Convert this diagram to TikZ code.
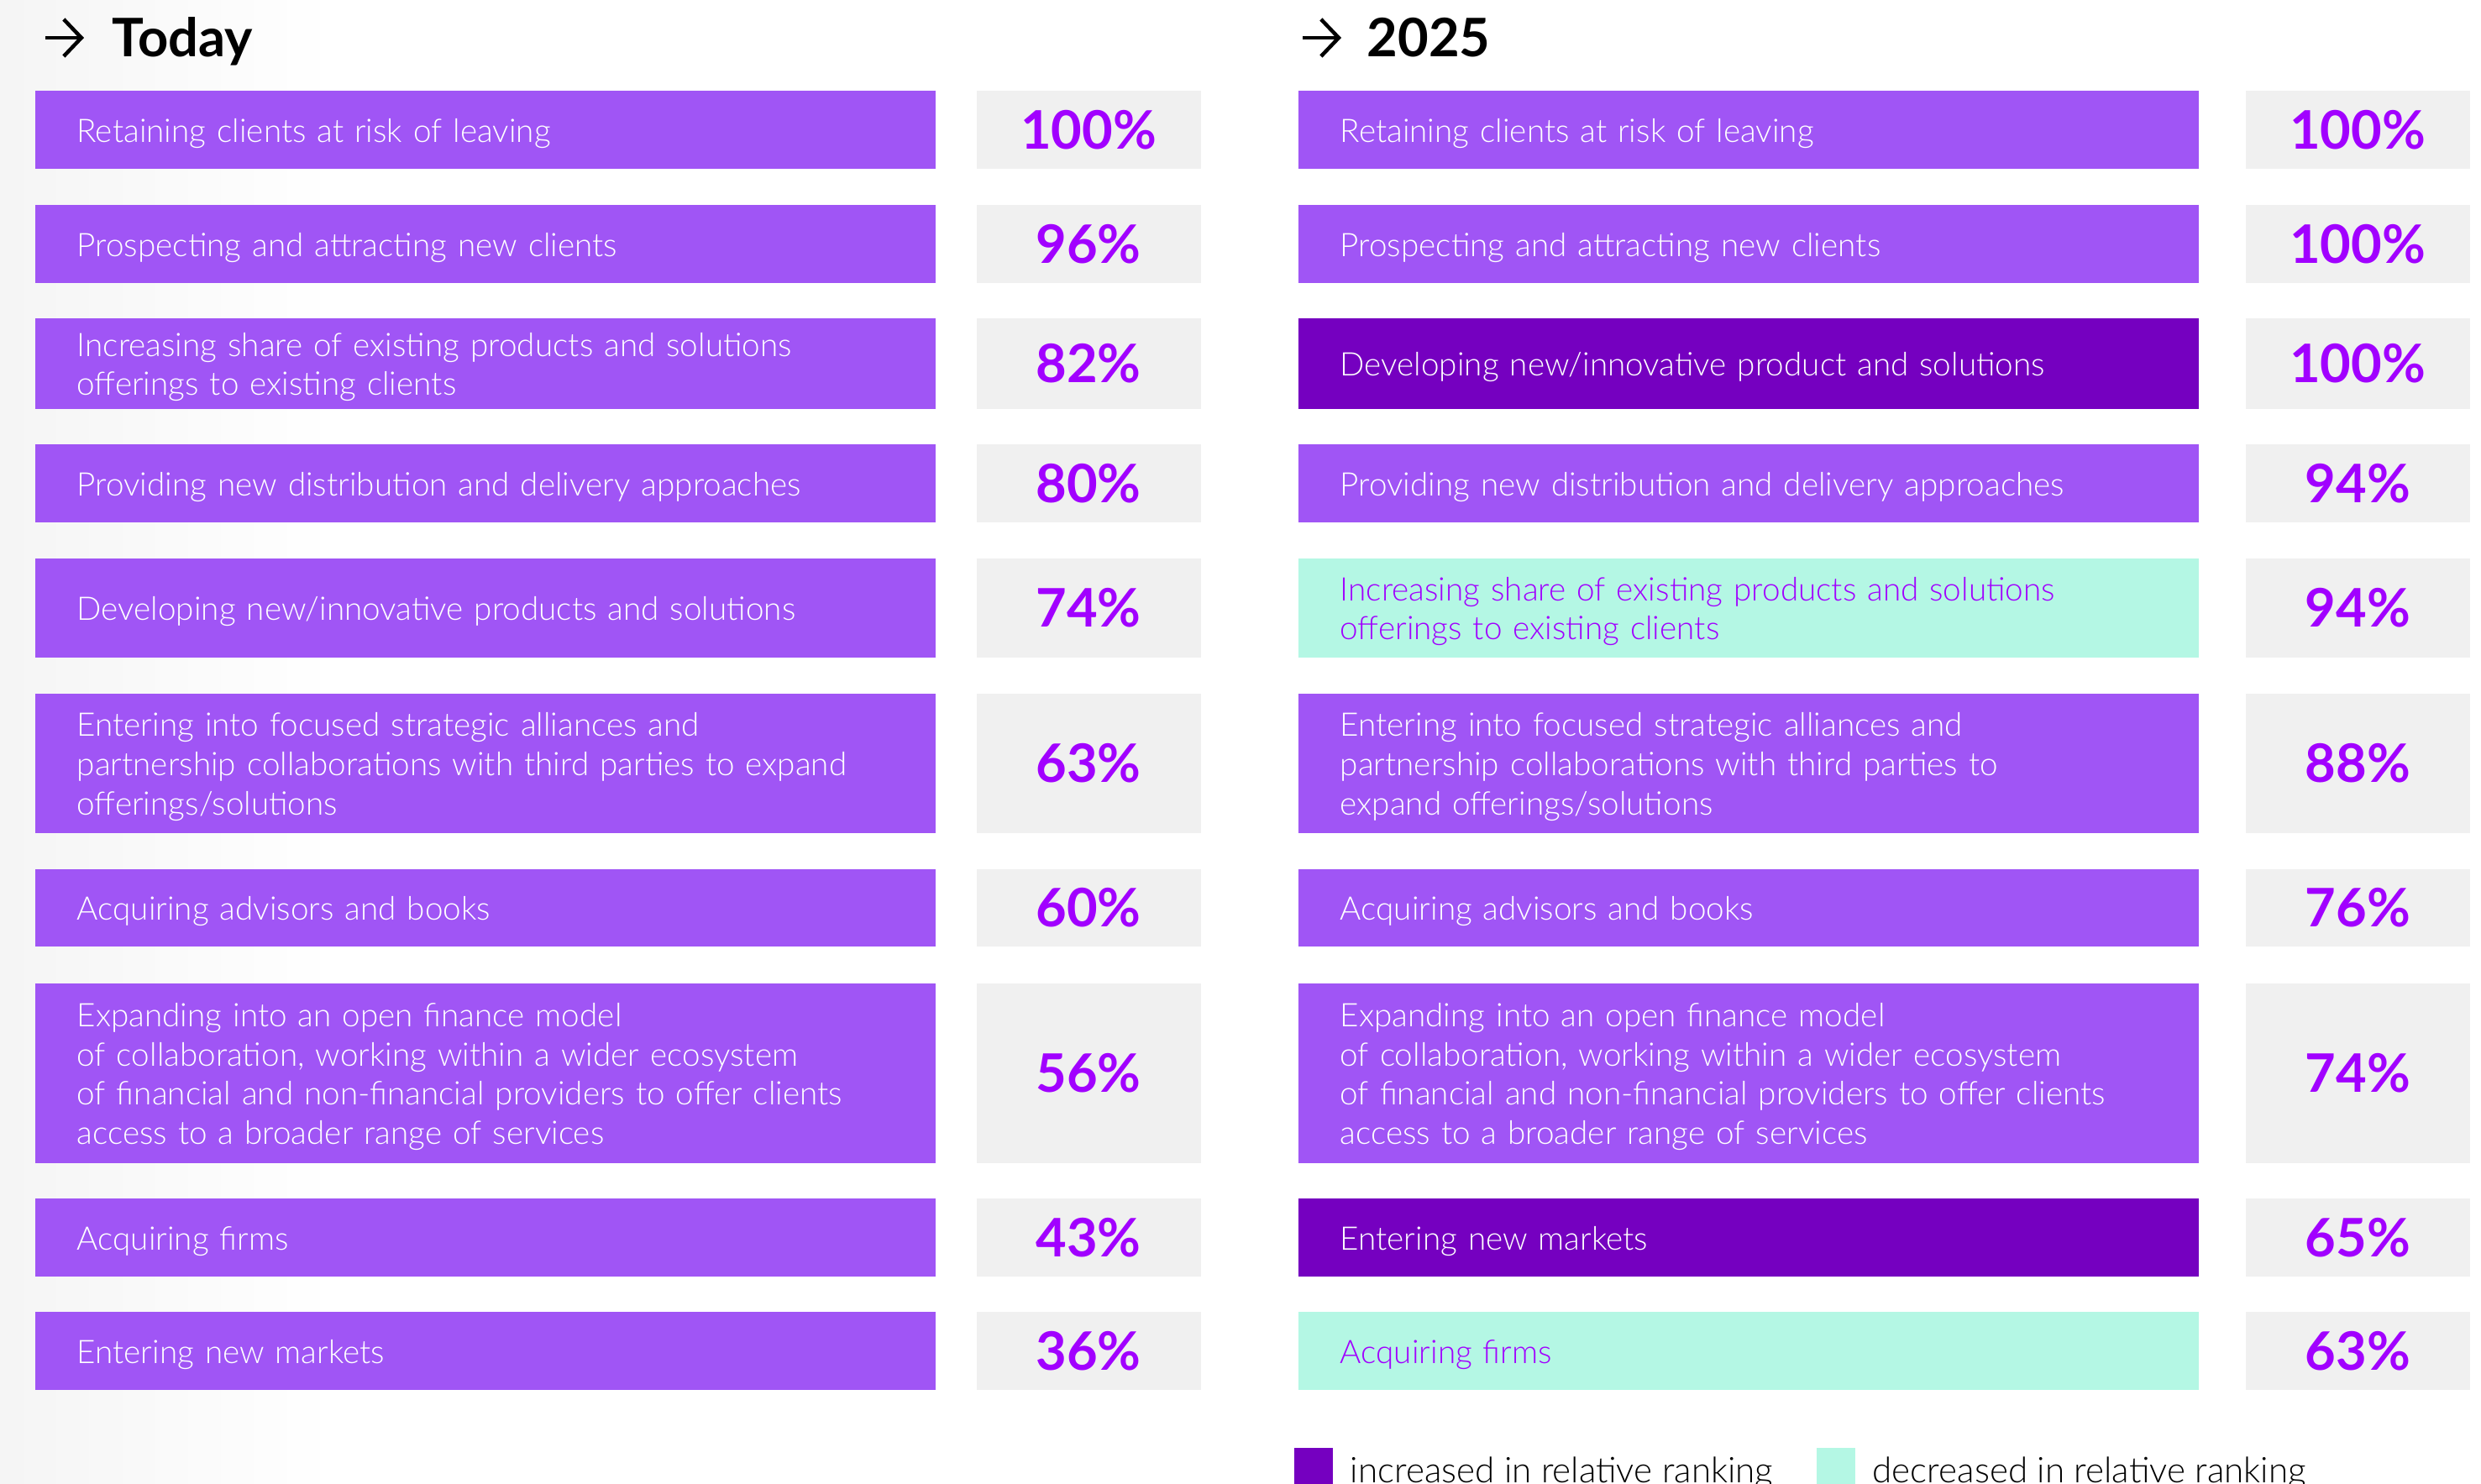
\documentclass[tikz,border=0pt]{standalone}
\usepackage{fontspec}
\setmainfont{Lato}[UprightFont = * Light, BoldFont = * Bold]
\usetikzlibrary{arrows.meta}

\definecolor{barpurple}{HTML}{A055F5}
\definecolor{uppurple}{HTML}{7500C0}
\definecolor{downmint}{HTML}{B4F7E4}
\definecolor{pctgrey}{HTML}{F0F0F0}
\definecolor{pctpurple}{HTML}{A100FF}

\tikzset{
	bar/.style = {anchor = north west, fill = barpurple, text = white, align = left,
		font = \fontsize{11}{13.3}\selectfont, text width = 9.72cm, inner xsep = 0.5cm,
		inner ysep = 0pt, minimum height = 0.93cm, execute at begin node = {\rule{0pt}{10.5pt}}},
	upbar/.style = {bar, fill = uppurple},
	downbar/.style = {bar, fill = downmint, text = pctpurple},
	pct/.style = {anchor = north west, fill = pctgrey, text = pctpurple,
		font = \bfseries\fontsize{18}{21}\selectfont, minimum width = 2.67cm,
		minimum height = 0.93cm, inner sep = 0pt},
	head/.style = {anchor = base west, inner sep = 0pt, font = \bfseries\fontsize{18}{21}\selectfont},
	headarrow/.style = {line width = 0.045cm, -{Straight Barb[length = 0.21cm, width = 0.44cm]}},
	key/.style = {anchor = north west, minimum size = 0.46cm, inner sep = 0pt},
	keytext/.style = {anchor = base west, inner sep = 0pt, font = \fontsize{12}{14}\selectfont}
}

\begin{document}
\begin{tikzpicture}
	\clip (0,0) rectangle (29.54,-17.66);
	\useasboundingbox (0,0) rectangle (29.54,-17.66);
	\shade[left color = black!4, right color = white] (0,0) rectangle (4,-17.66);

	% Today
	\coordinate (atoday) at (0.54,-0.45);
	\draw[headarrow] (atoday) -- ++(0.46,0);
	\node[head] (today) at (1.33,-0.67) {Today};

	\node[bar] (l1) at (0.41,-1.07) {Retaining clients at risk of leaving};
	\node[pct] (p1) at (11.62,-1.07) {100\%};
	\node[bar] (l2) at (0.41,-2.43) {Prospecting and attracting new clients};
	\node[pct] (p2) at (11.62,-2.43) {96\%};
	\node[bar, minimum height = 1.08cm] (l3) at (0.41,-3.78) {Increasing share of existing products and solutions\\offerings to existing clients};
	\node[pct, minimum height = 1.08cm] (p3) at (11.62,-3.78) {82\%};
	\node[bar] (l4) at (0.41,-5.28) {Providing new distribution and delivery approaches};
	\node[pct] (p4) at (11.62,-5.28) {80\%};
	\node[bar, minimum height = 1.18cm] (l5) at (0.41,-6.64) {Developing new/innovative products and solutions};
	\node[pct, minimum height = 1.18cm] (p5) at (11.62,-6.64) {74\%};
	\node[bar, minimum height = 1.66cm] (l6) at (0.41,-8.25) {Entering into focused strategic alliances and\\partnership collaborations with third parties to expand\\offerings/solutions};
	\node[pct, minimum height = 1.66cm] (p6) at (11.62,-8.25) {63\%};
	\node[bar, minimum height = 0.92cm] (l7) at (0.41,-10.34) {Acquiring advisors and books};
	\node[pct, minimum height = 0.92cm] (p7) at (11.62,-10.34) {60\%};
	\node[bar, minimum height = 2.14cm] (l8) at (0.41,-11.70) {Expanding into an open finance model\\of collaboration, working within a wider ecosystem\\of financial and non-financial providers to offer clients\\access to a broader range of services};
	\node[pct, minimum height = 2.14cm] (p8) at (11.62,-11.70) {56\%};
	\node[bar] (l9) at (0.41,-14.26) {Acquiring firms};
	\node[pct] (p9) at (11.62,-14.26) {43\%};
	\node[bar] (l10) at (0.41,-15.61) {Entering new markets};
	\node[pct] (p10) at (11.62,-15.61) {36\%};

	% 2025
	\coordinate (a2025) at (15.51,-0.45);
	\draw[headarrow] (a2025) -- ++(0.46,0);
	\node[head] (y2025) at (16.27,-0.67) {2025};

	\node[bar] (r1) at (15.45,-1.07) {Retaining clients at risk of leaving};
	\node[pct] (q1) at (26.73,-1.07) {100\%};
	\node[bar] (r2) at (15.45,-2.43) {Prospecting and attracting new clients};
	\node[pct] (q2) at (26.73,-2.43) {100\%};
	\node[upbar, minimum height = 1.08cm] (r3) at (15.45,-3.78) {Developing new/innovative product and solutions};
	\node[pct, minimum height = 1.08cm] (q3) at (26.73,-3.78) {100\%};
	\node[bar] (r4) at (15.45,-5.28) {Providing new distribution and delivery approaches};
	\node[pct] (q4) at (26.73,-5.28) {94\%};
	\node[downbar, minimum height = 1.18cm] (r5) at (15.45,-6.64) {Increasing share of existing products and solutions\\offerings to existing clients};
	\node[pct, minimum height = 1.18cm] (q5) at (26.73,-6.64) {94\%};
	\node[bar, minimum height = 1.66cm] (r6) at (15.45,-8.25) {Entering into focused strategic alliances and\\partnership collaborations with third parties to\\expand offerings/solutions};
	\node[pct, minimum height = 1.66cm] (q6) at (26.73,-8.25) {88\%};
	\node[bar, minimum height = 0.92cm] (r7) at (15.45,-10.34) {Acquiring advisors and books};
	\node[pct, minimum height = 0.92cm] (q7) at (26.73,-10.34) {76\%};
	\node[bar, minimum height = 2.14cm] (r8) at (15.45,-11.70) {Expanding into an open finance model\\of collaboration, working within a wider ecosystem\\of financial and non-financial providers to offer clients\\access to a broader range of services};
	\node[pct, minimum height = 2.14cm] (q8) at (26.73,-11.70) {74\%};
	\node[upbar] (r9) at (15.45,-14.26) {Entering new markets};
	\node[pct] (q9) at (26.73,-14.26) {65\%};
	\node[downbar] (r10) at (15.45,-15.61) {Acquiring firms};
	\node[pct] (q10) at (26.73,-15.61) {63\%};

	% legend
	\node[key, fill = uppurple] (kup) at (15.40,-17.23) {};
	\node[keytext] (kuptext) at (16.07,-17.65) {increased in relative ranking};
	\node[key, fill = downmint] (kdown) at (21.62,-17.23) {};
	\node[keytext] (kdowntext) at (22.29,-17.65) {decreased in relative ranking};
\end{tikzpicture}
\end{document}
